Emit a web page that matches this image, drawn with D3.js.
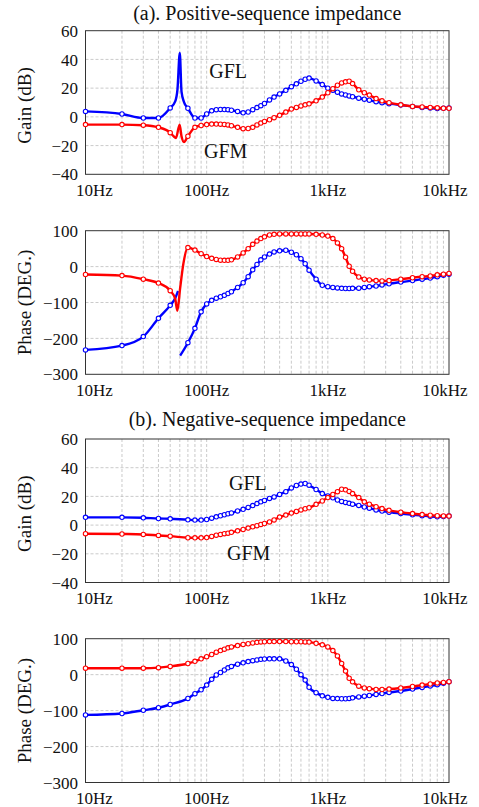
<!DOCTYPE html>
<html>
<head>
<meta charset="utf-8">
<script src="https://cdn.jsdelivr.net/npm/d3@7"></script>
<style>
  body { margin: 0; background: #fff; }
  svg text { font-family: "Liberation Serif", "Times New Roman", serif; fill: #111; }
</style>
</head>
<body>
<div id="chart"></div>
<script>
// Frequencies where the circle markers sit (Hz)
const markerFreqs = [10, 20, 30, 40, 50, 70, 80, 90,
  100, 110, 120, 130, 140, 150, 160,
  180, 200, 220, 240, 260, 280, 300,
  330, 360, 400, 450, 500, 550, 600, 650, 700, 800, 900,
  1000, 1100, 1200, 1300, 1400, 1500, 1600,
  1800, 2000, 2200, 2500, 2800, 3200,
  4000, 5000, 6000, 7000, 8000, 9000, 10000];

// (a) positive-sequence, values at markerFreqs
const posGainGFL = [3.8, 2, -0.8, -0.8, 6.2, 6, -0.8, -0.8,
  2, 4.2, 5, 5.2, 5.1, 5, 4.6,
  3.8, 2.8, 3.4, 5, 6.5, 7.8, 9.3,
  11.8, 13.8, 16, 18.5, 21, 23, 24.8, 26.2, 27, 25, 22.5,
  20, 18.5, 17.2, 16, 15.3, 14.6, 14,
  13, 12.3, 11.6, 10.6, 9.9, 9.2,
  8.2, 7.3, 6.6, 6.1, 5.8, 6, 6.2];
const posGainGFM = [-5.4, -5.4, -5.8, -7.3, -11, -13.5, -7.3, -6,
  -5.4, -5, -5, -5.1, -5.3, -5.6, -6.2,
  -7.3, -8.2, -8.1, -7.3, -5.6, -4.3, -3.2,
  -2, -0.6, 1.1, 3.3, 5.4, 6.6, 7.6, 8.4, 9.1, 11.2, 13.8,
  16.8, 19.6, 22, 23.6, 24.4, 24.8, 23.2,
  18.8, 16.8, 15.2, 12.7, 11.2, 9.9,
  8.4, 7.3, 6.9, 6.6, 6.3, 6, 6];
const posPhaseGFL = [-232, -220, -195, -144, -108, -212, -172, -126,
  -104, -94, -88, -84, -80, -75, -70,
  -58, -45, -28, -9, 6, 19, 27,
  35, 41, 44, 45.5, 40, 33, 22, 8, -10, -35, -52,
  -56, -58, -59.5, -60.5, -61, -61, -60.5,
  -60, -58, -56, -54, -51, -48,
  -43, -39, -35, -32, -28, -24, -21];
const posPhaseGFM = [-22, -25, -35, -46, -67, 53, 46, 36,
  28, 23, 20, 18, 17.5, 17.5, 19,
  27, 38, 50, 62, 71, 78, 83,
  88, 90, 91, 91, 91, 91, 91, 91, 91, 90, 88,
  85, 78, 66, 50, 26, 1, -13,
  -29, -35, -37, -39, -40, -39,
  -35, -31, -28, -26, -23, -21, -19];

// line-only points (no marker) around the 60 Hz fundamental; null breaks the line
const posGainGFLExtra = [[55, 10.8], [57.4, 19], [60, 44.5], [62, 17.6], [65, 10.3]];
const posGainGFMExtra = [[53, -13.3], [55.8, -14.7], [59.8, -5.4], [62, -13.5], [65, -17.5]];
const posPhaseGFLExtra = [[55, -88], [58, -68], [59.2, null], [60.4, -248]];
const posPhaseGFMExtra = [[55, -90], [57.3, -123], [60.4, -60], [64.3, 9]];

// (b) negative-sequence, values at markerFreqs
const negGainGFL = [5.4, 5.4, 5.1, 4.6, 4.4, 3.7, 3.5, 3.5,
  3.9, 4.8, 5.8, 6.5, 7.2, 7.9, 8.5,
  9.9, 11, 12.3, 13.6, 15, 16.2, 17.2,
  18.6, 19.6, 21.4, 23.3, 25.9, 27.6, 28.6, 29, 27.8, 24.8, 22,
  20.3, 19, 17.5, 16.5, 15.8, 15.2, 14.6,
  13.7, 12.6, 11.8, 10.6, 9.8, 9,
  8, 7.2, 6.6, 6.1, 5.8, 6, 6.3];
const negGainGFM = [-6, -6.2, -6.5, -7.2, -7.7, -8.8, -8.9, -8.9,
  -8.7, -7.9, -7, -6.5, -6, -5.6, -5,
  -4, -3, -2.1, -1.2, -0.4, 0.5, 1.1,
  2.2, 3.6, 5.6, 7, 8.4, 9.5, 10.6, 11.4, 12.1, 14.5, 16.8,
  19.2, 21.4, 23.3, 25, 24.6, 23.5, 22,
  19.2, 16.2, 14.6, 12.8, 11.5, 10.3,
  9, 8, 7.3, 6.9, 6.5, 6.4, 6.3];
const negPhaseGFL = [-112, -108, -99, -92, -83, -66, -53, -42,
  -29, -13, -1, 6, 13, 19, 23,
  29, 33, 36.5, 39, 41, 42.5, 43.5,
  44, 44, 44, 38, 28, 15, 0, -15, -35, -50, -59,
  -63, -66, -66.5, -67, -67, -66, -64.5,
  -62, -60, -58, -55, -52.5, -49.5,
  -45.5, -40, -35.5, -31.5, -28, -24, -19.5];
const negPhaseGFM = [18, 18, 18, 19.5, 23, 31, 37, 44,
  50, 56, 62.5, 67, 71, 74.5, 77,
  81, 84, 86, 88, 90, 91, 91.5,
  92, 92, 92, 92, 91.5, 91.5, 91.5, 91, 90.5, 87, 83,
  77, 67, 52, 31, 10, -10, -20,
  -32, -37, -39, -41, -41, -40,
  -37, -33, -29, -26, -23, -21.5, -19.5];

// axis ticks
const freqTicks = [10, 100, 1000, 10000];
const freqTickLabels = ["10Hz", "100Hz", "1kHz", "10kHz"];
const gainTicks = [60, 40, 20, 0, -20, -40];
const phaseTicks = [100, 0, -100, -200, -300];

const width = 479, height = 807;
const left = 85.5, right = 449;

const svg = d3.select("#chart")
  .append("svg")
  .attr("width", width)
  .attr("height", height);

const x = d3.scaleLog()
  .domain([10, 10000])
  .range([left, right]);

const fmt = v => (v < 0 ? "\u2212" + Math.abs(v) : String(v));

// merge marker points and extra line points into one sorted list
function linePoints(values, extra) {
  const pts = markerFreqs.map((f, i) => [f, values[i]]).concat(extra || []);
  return pts.sort((a, b) => a[0] - b[0]);
}

function drawPanel(cfg) {
  const y = d3.scaleLinear()
    .domain([cfg.ticks[cfg.ticks.length - 1], cfg.ticks[0]])
    .range([cfg.bottom, cfg.top]);

  const g = svg.append("g");

  // grid
  const xGrid = x.ticks().filter(f => f > 10 && f < 10000);
  g.selectAll(".vgrid")
    .data(xGrid)
    .enter()
    .append("line")
    .attr("x1", d => x(d)).attr("x2", d => x(d))
    .attr("y1", cfg.top).attr("y2", cfg.bottom)
    .attr("stroke", "#bdbdbd")
    .attr("stroke-width", 0.8)
    .attr("stroke-dasharray", "3,2");

  g.selectAll(".hgrid")
    .data(cfg.ticks.slice(1, -1))
    .enter()
    .append("line")
    .attr("x1", left).attr("x2", right)
    .attr("y1", d => y(d)).attr("y2", d => y(d))
    .attr("stroke", "#bdbdbd")
    .attr("stroke-width", 0.8)
    .attr("stroke-dasharray", "3,2");

  // box
  g.append("rect")
    .attr("x", left).attr("y", cfg.top)
    .attr("width", right - left).attr("height", cfg.bottom - cfg.top)
    .attr("fill", "none")
    .attr("stroke", "#333")
    .attr("stroke-width", 1);

  // y tick labels
  g.selectAll(".ytick")
    .data(cfg.ticks)
    .enter()
    .append("text")
    .attr("x", left - 7.5)
    .attr("y", d => y(d))
    .attr("dy", "0.36em")
    .attr("text-anchor", "end")
    .attr("font-size", 17)
    .text(fmt);

  // x tick labels (end labels nudged inward like the original)
  g.selectAll(".xtick")
    .data(freqTicks)
    .enter()
    .append("text")
    .attr("x", (d, i) => x(d) + (i === 0 ? 9 : i === freqTicks.length - 1 ? -4 : 0))
    .attr("y", cfg.bottom + 21.7)
    .attr("text-anchor", "middle")
    .attr("font-size", 17)
    .text((d, i) => freqTickLabels[i]);

  // y axis label
  const cy = (cfg.top + cfg.bottom) / 2 + cfg.labelShift;
  g.append("text")
    .attr("transform", `translate(31,${cy}) rotate(-90)`)
    .attr("text-anchor", "middle")
    .attr("font-size", 19)
    .text(cfg.ylabel);

  const line = d3.line()
    .defined(d => d[1] !== null)
    .x(d => x(d[0]))
    .y(d => y(d[1]))
    .curve(d3.curveMonotoneX);

  cfg.series.forEach(s => {
    g.append("path")
      .datum(linePoints(s.values, s.extra))
      .attr("d", line)
      .attr("fill", "none")
      .attr("stroke", s.color)
      .attr("stroke-width", 2.4)
      .attr("stroke-linejoin", "round");

    g.selectAll(null)
      .data(markerFreqs.map((f, i) => [f, s.values[i]]))
      .enter()
      .append("circle")
      .attr("cx", d => x(d[0]))
      .attr("cy", d => y(d[1]))
      .attr("r", 2.2)
      .attr("fill", "#fff")
      .attr("stroke", s.color)
      .attr("stroke-width", 1.1);
  });

  // curve names
  (cfg.names || []).forEach(n => {
    g.append("text")
      .attr("x", x(n.f))
      .attr("y", y(n.v))
      .attr("font-size", 20)
      .text(n.text);
  });

  return g;
}

// titles
svg.append("text")
  .attr("x", (left + right) / 2)
  .attr("y", 20.4)
  .attr("text-anchor", "middle")
  .attr("font-size", 20)
  .text("(a). Positive-sequence impedance");

svg.append("text")
  .attr("x", (left + right) / 2)
  .attr("y", 426.4)
  .attr("text-anchor", "middle")
  .attr("font-size", 20)
  .text("(b). Negative-sequence impedance");

drawPanel({
  top: 30.7, bottom: 174.3, ticks: gainTicks, ylabel: "Gain (dB)", labelShift: 3,
  series: [
    { values: posGainGFL, extra: posGainGFLExtra, color: "#0000ff" },
    { values: posGainGFM, extra: posGainGFMExtra, color: "#ff0000" }
  ],
  names: [{ text: "GFL", f: 105, v: 27 }, { text: "GFM", f: 95, v: -28.6 }]
});

drawPanel({
  top: 230.7, bottom: 374.3, ticks: phaseTicks, ylabel: "Phase (DEG.)", labelShift: 0,
  series: [
    { values: posPhaseGFL, extra: posPhaseGFLExtra, color: "#0000ff" },
    { values: posPhaseGFM, extra: posPhaseGFMExtra, color: "#ff0000" }
  ]
});

drawPanel({
  top: 439, bottom: 582.5, ticks: gainTicks, ylabel: "Gain (dB)", labelShift: 3,
  series: [
    { values: negGainGFL, color: "#0000ff" },
    { values: negGainGFM, color: "#ff0000" }
  ],
  names: [{ text: "GFL", f: 153, v: 24.4 }, { text: "GFM", f: 147, v: -24.4 }]
});

drawPanel({
  top: 638.7, bottom: 782.5, ticks: phaseTicks, ylabel: "Phase (DEG.)", labelShift: 0,
  series: [
    { values: negPhaseGFL, color: "#0000ff" },
    { values: negPhaseGFM, color: "#ff0000" }
  ]
});
</script>
</body>
</html>
